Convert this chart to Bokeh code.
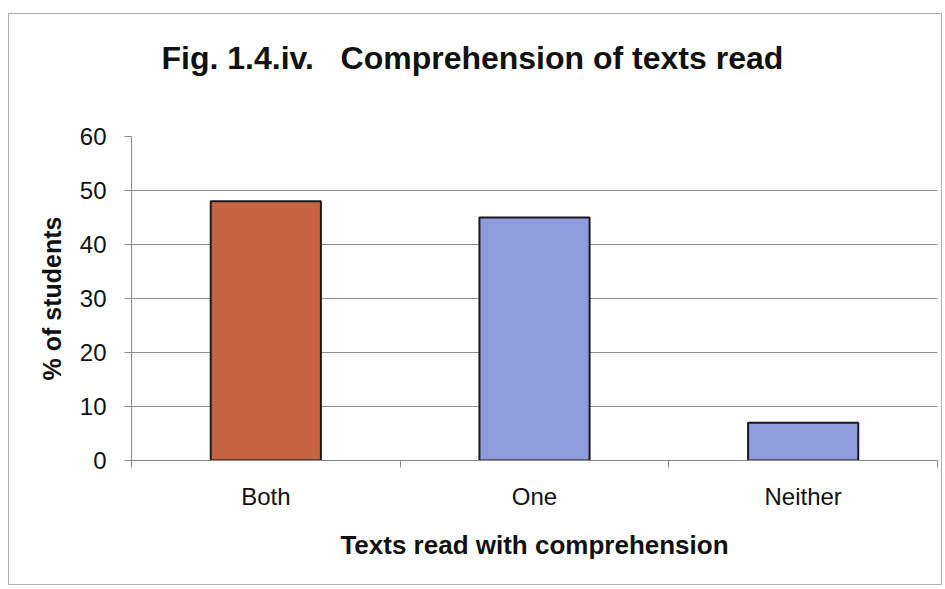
from bokeh.plotting import figure
from bokeh.models import ColumnDataSource, FixedTicker, Range1d, Title
from bokeh.embed import file_html
from bokeh.resources import INLINE

# Share of students by number of texts read with comprehension
categories = ["Both", "One", "Neither"]
percent = [48, 45, 7]
bar_colors = ["#C6643F", "#8E9CDE", "#8E9CDE"]
y_ticks = [0, 10, 20, 30, 40, 50, 60]
title_text = "Fig. 1.4.iv.\u00a0\u00a0\u00a0Comprehension of texts read"

positions = [i + 1 for i in range(len(categories))]
source = ColumnDataSource(dict(x=positions, top=percent, color=bar_colors))

p = figure(
    width=934, height=572,
    x_range=Range1d(0.5, len(categories) + 0.5),
    y_range=Range1d(0, 60),
    output_backend="svg", toolbar_location=None,
    min_border_left=122, min_border_right=6,
    min_border_top=122, min_border_bottom=126,
)
p.styles = {"margin-left": "8px", "margin-top": "13px", "border": "1px solid #b0b0b0"}
p.background_fill_color = "#fefefe"
p.border_fill_color = "#ffffff"
p.outline_line_color = None

p.vbar(x="x", top="top", width=0.41, bottom=0, source=source,
       fill_color="color", line_color="#1a1a1a", line_width=2)

# blank band between the title and the plotting area
p.add_layout(Title(text="\u00a0", text_font_size="40px"), "above")

p.title.text = title_text
p.title.text_font = "Liberation Sans"
p.title.text_font_size = "32px"
p.title.text_font_style = "bold"
p.title.text_color = "#111111"
p.title.align = "left"
p.title.offset = 30

# y axis
p.yaxis.ticker = FixedTicker(ticks=y_ticks)
p.yaxis.axis_label = "% of students"
p.yaxis.axis_label_text_font = "Liberation Sans"
p.yaxis.axis_label_text_font_size = "25px"
p.yaxis.axis_label_text_font_style = "bold"
p.yaxis.axis_label_text_color = "#111111"
p.yaxis.axis_label_standoff = 11
p.yaxis.major_label_text_font = "Liberation Sans"
p.yaxis.major_label_text_font_size = "24px"
p.yaxis.major_label_text_color = "#111111"
p.yaxis.major_label_standoff = 18
p.yaxis.axis_line_color = "#8a8a8a"
p.yaxis.major_tick_line_color = "#8a8a8a"
p.yaxis.major_tick_out = 7
p.yaxis.major_tick_in = 0
p.yaxis.minor_tick_line_color = None

# x axis: labels at category centres, small ticks on category boundaries
boundaries = [i + 0.5 for i in range(len(categories) + 1)]
p.xaxis.ticker = FixedTicker(ticks=positions, minor_ticks=boundaries)
p.xaxis.major_label_overrides = {pos: name for pos, name in zip(positions, categories)}
p.xaxis.axis_label = "Texts read with comprehension"
p.xaxis.axis_label_text_font = "Liberation Sans"
p.xaxis.axis_label_text_font_size = "26px"
p.xaxis.axis_label_text_font_style = "bold"
p.xaxis.axis_label_text_color = "#111111"
p.xaxis.axis_label_standoff = 17
p.xaxis.major_label_text_font = "Liberation Sans"
p.xaxis.major_label_text_font_size = "24px"
p.xaxis.major_label_text_color = "#111111"
p.xaxis.major_label_standoff = 15
p.xaxis.axis_line_color = "#8a8a8a"
p.xaxis.major_tick_line_color = None
p.xaxis.minor_tick_line_color = "#8a8a8a"
p.xaxis.minor_tick_out = 7
p.xaxis.minor_tick_in = 0

p.xgrid.grid_line_color = None
p.ygrid.grid_line_color = "#8f8f8f"
p.ygrid.grid_line_width = 1.2

open("out.html", "w").write(file_html(p, INLINE))
